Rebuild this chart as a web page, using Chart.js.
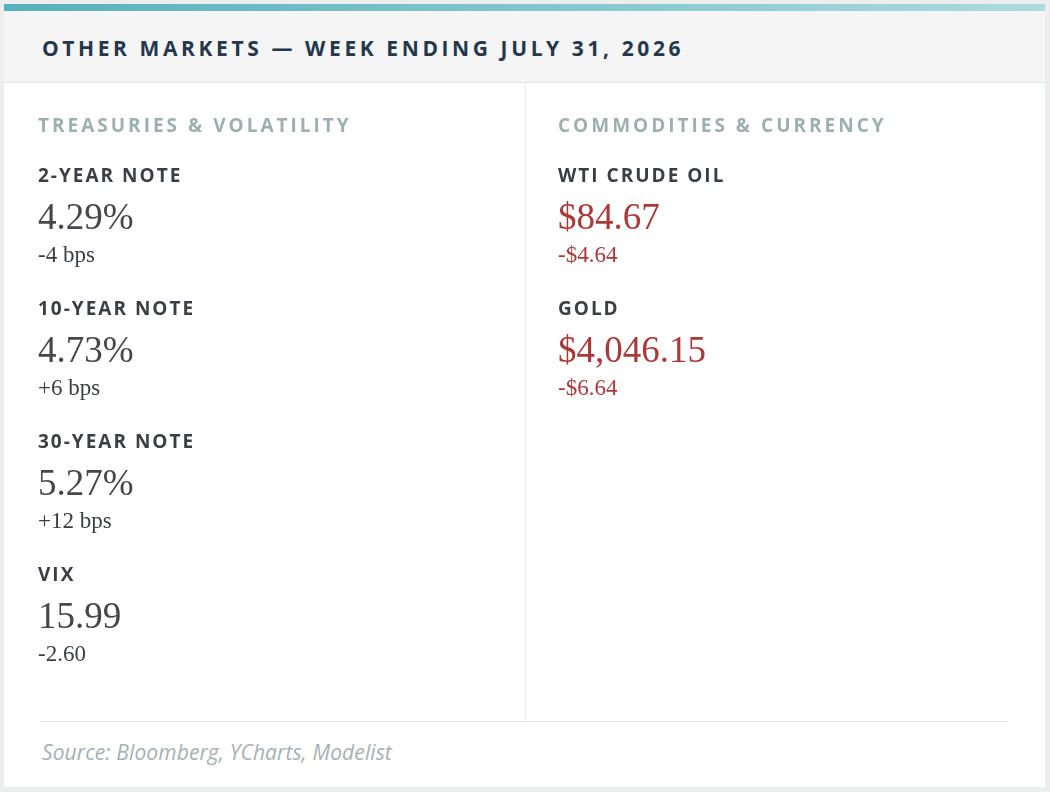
<!DOCTYPE html>
<html><head><meta charset="utf-8">
<script src="https://cdn.jsdelivr.net/npm/chart.js@4/dist/chart.umd.min.js"></script>
<style>
html,body{margin:0;padding:0;width:1050px;height:792px;overflow:hidden;background:#eceeee;}
.abs{position:absolute;}
#card{left:4px;top:4px;width:1041px;height:783px;background:#fff;}
#bar{left:4px;top:4px;width:1041px;height:7px;background:linear-gradient(90deg,#57b1bb,#abdadf);}
#head{left:4px;top:11px;width:1041px;height:71px;background:#f5f5f5;border-bottom:1px solid #e0e5e5;}
#title{left:42px;top:38px;font:700 21px/20px 'Open Sans';letter-spacing:3.6px;color:#25374a;white-space:nowrap;}
#vline{left:525px;top:83px;width:1px;height:639px;background:#e8ebeb;}
#hline{left:40px;top:721px;width:968px;height:1px;background:#e3e6e6;}
#source{left:42px;top:742px;font:italic 400 21px/21px 'Open Sans';letter-spacing:0.1px;color:#a7b0b3;white-space:nowrap;}
#panel{left:4px;top:83px;}
</style></head>
<body>
<div id="card" class="abs"></div>
<div id="bar" class="abs"></div>
<div id="head" class="abs"></div>
<div id="title" class="abs">OTHER MARKETS — WEEK ENDING JULY 31, 2026</div>
<div id="vline" class="abs"></div>
<canvas id="panel" class="abs" width="1041" height="639"></canvas>
<div id="hline" class="abs"></div>
<div id="source" class="abs">Source: Bloomberg, YCharts, Modelist</div>
<script>
// ---- data ----
const sectionTitles = ['TREASURIES & VOLATILITY', 'COMMODITIES & CURRENCY'];
const treasuryLabels = ['2-YEAR NOTE', '10-YEAR NOTE', '30-YEAR NOTE', 'VIX'];
const treasuryValues = [4.29, 4.73, 5.27, 15.99];
const treasuryUnits = ['%', '%', '%', ''];
const treasuryChanges = [-4, 6, 12, -2.60];
const treasuryChangeUnits = ['bps', 'bps', 'bps', ''];
const commodityLabels = ['WTI CRUDE OIL', 'GOLD'];
const commodityValues = [84.67, 4046.15];
const commodityChanges = [-4.64, -6.64];

// ---- formatting ----
function fmtTreasuryValue(v, u){ return v.toFixed(2) + u; }
function fmtTreasuryChange(c, u){
  if (u === 'bps') return (c > 0 ? '+' : '') + c.toFixed(0) + ' bps';
  return (c > 0 ? '+' : '') + c.toFixed(2);
}
function fmtMoney(v){ return '$' + Math.abs(v).toLocaleString('en-US',{minimumFractionDigits:2, maximumFractionDigits:2}); }
function fmtMoneyChange(c){ return (c < 0 ? '-' : '+') + fmtMoney(c); }

const DARK = '#3b3e45', VALUE_DARK = '#45474d', RED = '#a83a3a', SECTION = '#9eafb0';

const datasets = [
  {
    section: sectionTitles[0],
    labels: treasuryLabels,
    valueText: treasuryValues.map((v,i)=>fmtTreasuryValue(v, treasuryUnits[i])),
    changeText: treasuryChanges.map((c,i)=>fmtTreasuryChange(c, treasuryChangeUnits[i])),
    valueColor: VALUE_DARK, changeColor: DARK,
    data: treasuryLabels.map((_,i)=>({x:0, y:i}))
  },
  {
    section: sectionTitles[1],
    labels: commodityLabels,
    valueText: commodityValues.map(fmtMoney),
    changeText: commodityChanges.map(fmtMoneyChange),
    valueColor: RED, changeColor: RED,
    data: commodityLabels.map((_,i)=>({x:1, y:i}))
  }
];

const panelText = {
  id: 'panelText',
  afterDatasetsDraw(chart){
    const ctx = chart.ctx;
    ctx.save();
    ctx.textAlign = 'left';
    ctx.textBaseline = 'alphabetic';
    chart.data.datasets.forEach((ds, di) => {
      const meta = chart.getDatasetMeta(di);
      meta.data.forEach((pt, i) => {
        const x = pt.x, y = pt.y;
        if (i === 0) {
          ctx.font = "700 19px 'Open Sans'";
          ctx.letterSpacing = '3px';
          ctx.fillStyle = SECTION;
          ctx.fillText(ds.section, x, y - 50);
        }
        ctx.font = "700 19px 'Open Sans'";
        ctx.letterSpacing = '2px';
        ctx.fillStyle = DARK;
        ctx.fillText(ds.labels[i], x, y);
        ctx.letterSpacing = '0px';
        ctx.font = "400 37px 'Liberation Serif'";
        ctx.fillStyle = ds.valueColor;
        ctx.fillText(ds.valueText[i], x, y + 47);
        ctx.font = "400 23px 'Liberation Serif'";
        ctx.fillStyle = ds.changeColor;
        ctx.fillText(ds.changeText[i], x, y + 80);
      });
    });
    ctx.restore();
  }
};

new Chart(document.getElementById('panel'), {
  type: 'scatter',
  data: { datasets },
  options: {
    responsive: false,
    animation: false,
    layout: { padding: { left: 34, right: 487, top: 99, bottom: 141 } },
    elements: { point: { radius: 0, hoverRadius: 0 } },
    scales: {
      x: { type: 'linear', min: 0, max: 1, display: false },
      y: { type: 'linear', min: 0, max: 3, reverse: true, display: false }
    },
    plugins: { legend: { display: false }, tooltip: { enabled: false } }
  },
  plugins: [panelText]
});
</script>
</body></html>
